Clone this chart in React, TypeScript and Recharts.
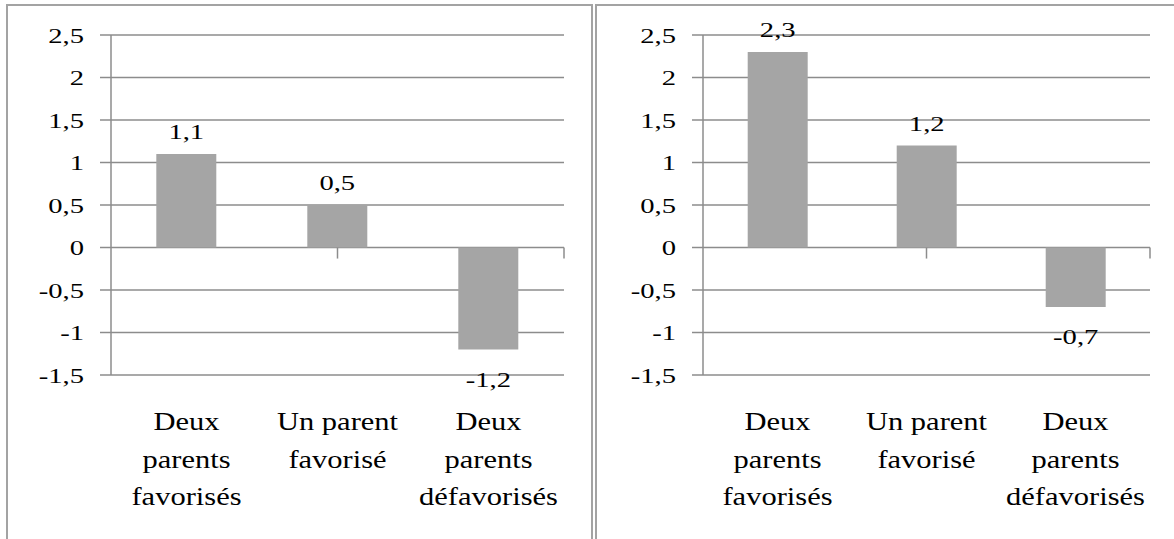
import React from "react";
import {
  BarChart,
  Bar,
  XAxis,
  YAxis,
  CartesianGrid,
  LabelList,
  ReferenceLine,
} from "recharts";

const categories = ["Deux parents favorisés", "Un parent favorisé", "Deux parents défavorisés"];
const categoryLines = [
  ["Deux", "parents", "favorisés"],
  ["Un parent", "favorisé"],
  ["Deux", "parents", "défavorisés"],
];
const leftValues = [1.1, 0.5, -1.2];
const rightValues = [2.3, 1.2, -0.7];
const yTicks = [-1.5, -1, -0.5, 0, 0.5, 1, 1.5, 2, 2.5];
const boundaryTicks = [1, 2, 3];

const FONT = "'Liberation Serif', 'Times New Roman', 'DejaVu Serif', serif";
const GRID = "#8c8c8c";
const BAR = "#a5a5a5";
const BORDER = "#a3a3a3";
const textStyle: React.CSSProperties = { fontFamily: FONT };

const fmt = (v: number) => String(v).replace(".", ",");

const YTick = (props: any) => {
  const { x, y, payload } = props;
  return (
    <g transform={`translate(${x},${y}) scale(1.3,1)`}>
      <text x={0} y={0} dy="0.355em" textAnchor="end" style={{ ...textStyle, fontSize: 22 }} fill="#000">
        {fmt(payload.value)}
      </text>
    </g>
  );
};

const XTick = (props: any) => {
  const { x, y, payload } = props;
  const idx = categories.indexOf(payload.value);
  const lines = categoryLines[idx] || [payload.value];
  return (
    <g>
      {lines.map((ln, i) => (
        <g key={i} transform={`translate(${x},${y + 55 + i * 37.5}) scale(1.22,1)`}>
          <text x={0} y={0} textAnchor="middle" style={{ ...textStyle, fontSize: 25 }} fill="#000">
            {ln}
          </text>
        </g>
      ))}
    </g>
  );
};

const ValueLabel = (props: any) => {
  const { x, y, width, height, value } = props;
  const top = Math.min(y, y + height);
  const bottom = Math.max(y, y + height);
  const cx = x + width / 2;
  const by = value >= 0 ? top - 15 : bottom + 37;
  return (
    <g transform={`translate(${cx},${by}) scale(1.3,1)`}>
      <text x={0} y={0} textAnchor="middle" style={{ ...textStyle, fontSize: 22 }} fill="#000">
        {fmt(value)}
      </text>
    </g>
  );
};

function Panel({ values, width, yWidth, right }: { values: number[]; width: number; yWidth: number; right: number }) {
  const data = categories.map((c, i) => ({ name: c, value: values[i] }));
  return (
    <BarChart
      width={width}
      height={539}
      data={data}
      margin={{ top: 35, right, left: 0, bottom: 0 }}
      barCategoryGap="30%"
    >
      <CartesianGrid horizontal vertical={false} stroke={GRID} strokeWidth={1.5} />
      <XAxis
        dataKey="name"
        height={164}
        axisLine={false}
        tickLine={false}
        tickSize={0}
        tickMargin={0}
        interval={0}
        tick={<XTick />}
      />
      <XAxis xAxisId="grid" type="number" domain={[0, 3]} allowDataOverflow hide />
      <YAxis
        width={yWidth}
        domain={[-1.5, 2.5]}
        ticks={yTicks}
        interval={0}
        allowDataOverflow
        axisLine={{ stroke: GRID, strokeWidth: 1.5 }}
        tickLine={{ stroke: GRID, strokeWidth: 1.5 }}
        tickSize={11}
        tickMargin={16}
        tick={<YTick />}
      />
      {boundaryTicks.map((b) => (
        <ReferenceLine
          key={b}
          xAxisId="grid"
          segment={[
            { x: b, y: 0 },
            { x: b, y: -0.13 },
          ]}
          stroke={GRID}
          strokeWidth={1.5}
          ifOverflow="visible"
        />
      ))}
      <Bar dataKey="value" fill={BAR} isAnimationActive={false}>
        <LabelList dataKey="value" content={<ValueLabel />} />
      </Bar>
    </BarChart>
  );
}

export default function App() {
  return (
    <div
      style={{
        position: "absolute",
        left: 0,
        top: 0,
        width: 1174,
        height: 539,
        overflow: "hidden",
        background: "#fff",
      }}
    >
      <div style={{ position: "absolute", left: 0, top: 0 }}>
        <Panel values={leftValues} width={593} yWidth={111} right={29} />
      </div>
      <div style={{ position: "absolute", left: 595, top: 0 }}>
        <Panel values={rightValues} width={579} yWidth={108} right={24} />
      </div>
      <div
        style={{
          position: "absolute",
          left: 6,
          top: 4,
          width: 587,
          height: 700,
          border: `2px solid ${BORDER}`,
          boxSizing: "border-box",
          pointerEvents: "none",
        }}
      />
      <div
        style={{
          position: "absolute",
          left: 595,
          top: 4,
          width: 700,
          height: 700,
          border: `2px solid ${BORDER}`,
          boxSizing: "border-box",
          pointerEvents: "none",
        }}
      />
    </div>
  );
}
